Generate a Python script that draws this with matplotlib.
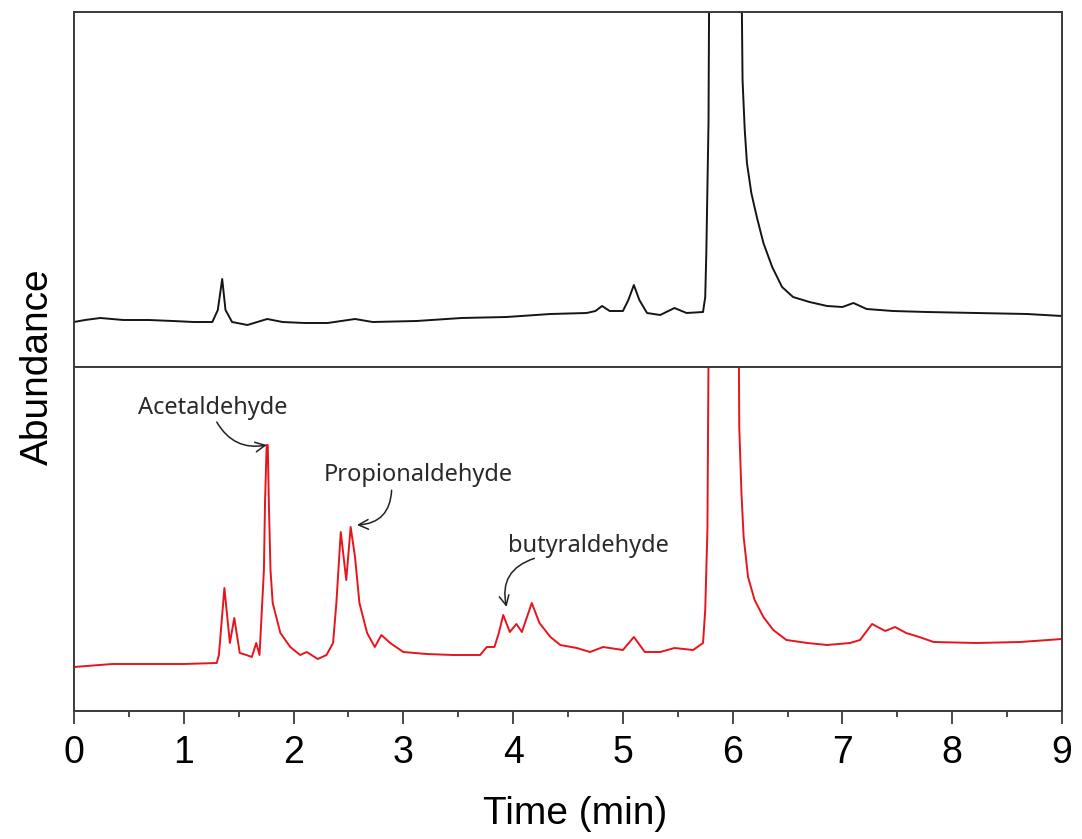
import numpy as np
import matplotlib
matplotlib.use("Agg")
import matplotlib.pyplot as plt

# retention time (min) and abundance (a.u.)
blank_time = [0.00, 0.10, 0.24, 0.45, 0.68, 0.90, 1.09, 1.26, 1.31, 1.35, 1.38, 1.44,
              1.58, 1.76, 1.90, 2.10, 2.31, 2.56, 2.72, 3.12, 3.53, 3.94, 4.34, 4.67,
              4.75, 4.81, 4.88, 5.00, 5.05, 5.10, 5.15, 5.22, 5.34, 5.47, 5.58, 5.73,
              5.75, 5.76, 5.78, 5.80, 5.93, 6.06, 6.08, 6.09, 6.11, 6.13, 6.17, 6.22,
              6.28, 6.36, 6.45, 6.55, 6.70, 6.86, 7.00, 7.10, 7.22, 7.46, 7.77, 8.22,
              8.68, 9.00]
blank_abund = [45, 47, 49, 47, 47, 46, 45, 45, 57, 88, 57, 45,
               42, 48, 45, 44, 44, 48, 45, 46, 49, 50, 53, 54,
               56, 61, 56, 56, 67, 82, 67, 54, 52, 59, 54, 55,
               70, 114, 245, 700, 1400, 700, 400, 287, 237, 204, 174, 150,
               124, 100, 80, 70, 65, 61, 60, 64, 58, 56, 55, 54,
               53, 51]

sample_time = [0.00, 0.35, 0.70, 1.00, 1.30, 1.32, 1.37, 1.42, 1.46, 1.51, 1.57, 1.62,
               1.66, 1.69, 1.73, 1.74, 1.755, 1.765, 1.775, 1.79, 1.81, 1.88, 1.97, 2.06,
               2.12, 2.22, 2.30, 2.36, 2.39, 2.43, 2.48, 2.52, 2.56, 2.60, 2.67, 2.74,
               2.80, 2.88, 3.00, 3.21, 3.45, 3.70, 3.76, 3.83, 3.87, 3.91, 3.97, 4.03,
               4.08, 4.17, 4.24, 4.34, 4.43, 4.58, 4.70, 4.82, 5.00, 5.10, 5.20, 5.34,
               5.47, 5.64, 5.73, 5.75, 5.77, 5.80, 5.92, 6.04, 6.06, 6.08, 6.10, 6.14,
               6.20, 6.28, 6.37, 6.49, 6.68, 6.86, 7.07, 7.16, 7.27, 7.39, 7.48, 7.58,
               7.70, 7.83, 8.22, 8.62, 9.00]
sample_abund = [44, 47, 47, 47, 48, 56, 123, 68, 93, 58, 56, 54,
                68, 56, 141, 208, 266, 266, 208, 141, 108, 78, 64, 56,
                59, 52, 56, 68, 108, 179, 131, 184, 154, 108, 78, 64,
                76, 68, 59, 57, 56, 56, 64, 64, 78, 96, 79, 87,
                79, 108, 88, 74, 66, 63, 59, 64, 61, 74, 59, 59,
                63, 61, 68, 101, 181, 700, 1400, 700, 284, 218, 174, 134,
                111, 94, 81, 71, 68, 66, 68, 71, 87, 80, 84, 78,
                74, 69, 68, 69, 72]

# labels: name, arrow tip (time, abundance)
peak_names = ["Acetaldehyde", "Propionaldehyde", "butyraldehyde"]
peak_tips = [(1.756, 266), (2.577, 186), (3.94, 104)]

fig = plt.figure(figsize=(10.82, 8.39), dpi=100)
ax_top = fig.add_axes([74 / 1082, 1 - 367 / 839, 988 / 1082, 355 / 839])
ax_bot = fig.add_axes([74 / 1082, 1 - 711 / 839, 988 / 1082, 344 / 839])

ax_top.plot(blank_time, blank_abund, color="#151515", lw=1.4)
ax_bot.plot(sample_time, sample_abund, color="#e8141c", lw=1.4)

ax_top.set_ylim(0, 355)
ax_bot.set_ylim(0, 344)
for ax in (ax_top, ax_bot):
    ax.set_xlim(0, 9)
    ax.set_yticks([])
    for sp in ax.spines.values():
        sp.set_color("#3a3a3a")
        sp.set_linewidth(1.4)

ax_top.set_xticks([])
ax_bot.set_xticks(np.arange(0, 10, 1))
ax_bot.set_xticks(np.arange(0.5, 9, 1), minor=True)
ax_bot.tick_params(axis="x", which="major", direction="out", length=9, width=1.3,
                   color="#3a3a3a", pad=8, labelsize=27)
ax_bot.tick_params(axis="x", which="minor", direction="out", length=4.5, width=1.3,
                   color="#3a3a3a")
for lab in ax_bot.get_xticklabels():
    lab.set_family(["Liberation Sans", "DejaVu Sans"])

ax_bot.set_xlabel("Time (min)", fontsize=28, family=["Liberation Sans", "DejaVu Sans"],
                  labelpad=18)
ax_bot.xaxis.label.set_x(0.507)
fig.text(38 / 1082, 1 - 367 / 839, "Abundance", rotation=90, fontsize=28,
         family=["Liberation Sans", "DejaVu Sans"], ha="center", va="center")

# label text offset and arrow start offset (points) relative to the tip
text_off = [(-39, 27), (44, 36), (59, 44)]
arrow_off = [(-36, 16.5), (25, 25), (20, 35)]
arcs = [0.35, -0.45, 0.45]
for name, tip, toff, aoff, rad in zip(peak_names, peak_tips, text_off, arrow_off, arcs):
    ax_bot.annotate("", xy=tip, xytext=aoff, textcoords="offset points",
                    arrowprops=dict(arrowstyle="->,head_length=0.7,head_width=0.35",
                                    color="#222222", lw=1.1,
                                    shrinkA=0, shrinkB=0,
                                    connectionstyle=f"arc3,rad={rad}"))
    ax_bot.annotate(name, xy=tip, xytext=toff, textcoords="offset points",
                    ha="center", va="center", fontsize=17, color="#2a2a2a",
                    family=["Noto Sans", "DejaVu Sans"])

fig.savefig("out.png", dpi=100)
